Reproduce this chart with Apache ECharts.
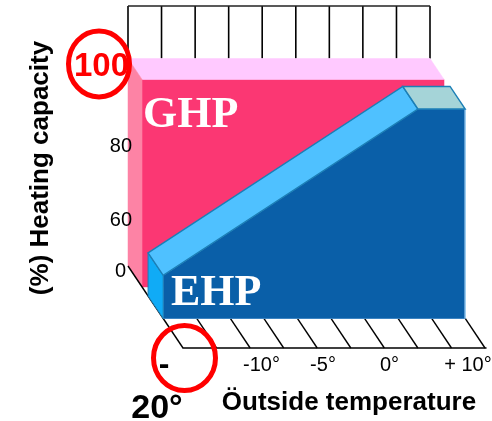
<!DOCTYPE html>
<html><head><meta charset="utf-8">
<style>html,body{margin:0;padding:0;background:#fff}#c{width:492px;height:421px}</style>
<script src="https://cdn.jsdelivr.net/npm/echarts@6/dist/echarts.min.js"></script>
</head><body><div id="c"></div>
<script>
// ---- data ----
const tempTicks = [-20, -10, -5, 0, 10];
const tempLabels = ['-\n20°', '-10°', '-5°', '0°', '+ 10°'];
const capacityTicks = [47, 60, 80, 100];          // axis is truncated: its foot carries the label "0"
const capacityLabels = ['0', '60', '80', '100'];
const hatchTemps = [-20, -16.67, -13.33, -10, -6.67, -3.33, 0, 3.33, 6.67, 10];
const ghpTemps = [-20, 10];
const ghpCapacity = [100, 100];
const ehpTemps = [-20, 5.3, 10];
const ehpCapacity = [58, 100.5, 100.5];
const axisNames = { x: 'Öutside temperature', y: '(%) Heating capacity' };

// ---- oblique projection ----
const DX = 55, DY = 82;
const Z_GHP = 0.255, Z_EHP_BACK = 0.365, Z_EHP_FRONT = 0.64;
const CAP_MIN = 47, CAP_TOP = 113.4;
const sans = '"Liberation Sans", Arial, sans-serif';
const serif = '"Liberation Serif", "Times New Roman", serif';

function proj(api, t, c, z) {
  const p = api.coord([t, c]);
  return [p[0] + z * DX, p[1] + z * DY];
}
function poly(points, fill, stroke, lw) {
  return { type: 'polygon', shape: { points }, style: { fill, stroke: stroke || fill, lineWidth: lw || 0.5, lineJoin: 'miter' } };
}
function seg(a, b, color, w) {
  return { type: 'line', shape: { x1: a[0], y1: a[1], x2: b[0], y2: b[1] }, style: { stroke: color, lineWidth: w } };
}
function once(draw) {
  return function (params, api) {
    if (params.dataIndex > 0) return;
    return { type: 'group', children: draw(api) };
  };
}
const onWall = { type: 'custom', coordinateSystem: 'cartesian2d', xAxisIndex: 1, yAxisIndex: 0, silent: true, clip: false };

const drawWall = once(api => {
  const out = hatchTemps.map(t => seg(proj(api, t, 100, 0), proj(api, t, CAP_TOP, 0), '#000', 1.6));
  out.push(seg(proj(api, -20, CAP_TOP, 0), proj(api, 10, CAP_TOP, 0), '#222', 1.6));
  return out;
});
const drawGhp = once(api => {
  const [t0, t1] = ghpTemps, c = ghpCapacity[0];
  return [
    poly([proj(api, t0, CAP_MIN, Z_GHP), proj(api, t0, c, Z_GHP), proj(api, t1, c, Z_GHP), proj(api, t1, CAP_MIN, Z_GHP)], '#FB3773'),
    poly([proj(api, t0, c, 0), proj(api, t1, c, 0), proj(api, t1, c, Z_GHP), proj(api, t0, c, Z_GHP)], '#FFC9FF'),
    poly([proj(api, t0, CAP_MIN, 0), proj(api, t0, c, 0), proj(api, t0, c, Z_GHP), proj(api, t0, CAP_MIN, Z_GHP)], '#FD83A5')
  ];
});
const drawHatch = once(api => {
  return hatchTemps.map((t, i) => seg(proj(api, t, CAP_MIN, i === 0 ? 0 : Z_EHP_FRONT), proj(api, t, CAP_MIN, 1), '#000', 1.4));
});
const drawEhp = once(api => {
  const edge = '#1B7FB6';
  const front = ehpTemps.map((t, i) => proj(api, t, ehpCapacity[i], Z_EHP_FRONT));
  const back = ehpTemps.map((t, i) => proj(api, t, ehpCapacity[i], Z_EHP_BACK));
  const bl = proj(api, ehpTemps[0], CAP_MIN, Z_EHP_FRONT), br = proj(api, ehpTemps[2], CAP_MIN, Z_EHP_FRONT);
  const blb = proj(api, ehpTemps[0], CAP_MIN, Z_EHP_BACK);
  return [
    poly([bl, front[0], front[1], front[2], br], '#0A5FA8', '#3B83C2', 1),
    seg(front[2], br, '#A5D3F3', 1.4),
    poly([blb, back[0], front[0], bl], '#10ABF6', '#1B7FB6', 1),
    poly([back[0], back[1], front[1], front[0]], '#4FC1FF', edge, 1.4),
    poly([back[1], back[2], front[2], front[1]], '#A5D4D8', edge, 1.4)
  ];
});
const drawMarks = once(api => {
  const a = proj(api, -20, 100, 0), b = proj(api, -20, CAP_MIN, 1);
  const ring = (cx, cy, rx, ry) => ({ type: 'ellipse', shape: { cx, cy, rx, ry }, style: { fill: 'none', stroke: '#FF0000', lineWidth: 5 } });
  return [ring(a[0] - 29, a[1] + 5.5, 30.5, 33), ring(b[0] + 1.5, b[1] + 10, 31, 32.5)];
});

const xShift = { '-20': [0, 52, 0, 0], '-10': [0, 45, 0, 0], '-5': [0, 23, 0, 0], '0': [0, 0, 0, 9], '10': [0, 36, 0, 0] };
const xRich = {};
tempTicks.forEach((t, i) => { xRich['t' + i] = { fontFamily: sans, fontSize: 20, color: '#000', padding: xShift[t] }; });
xRich.dash = { fontFamily: sans, fontSize: 32, fontWeight: 'bold', color: '#000', lineHeight: 20, padding: [0, 38, 0, 0] };
xRich.big = { fontFamily: sans, fontSize: 34, fontWeight: 'bold', color: '#000', lineHeight: 68, padding: [0, 52, 0, 0] };

const yRich = {
  c0: { fontFamily: sans, fontSize: 20, color: '#000', padding: [10, 6, 0, 0] },
  c1: { fontFamily: sans, fontSize: 20, color: '#000', padding: [11, 0, 0, 0] },
  c2: { fontFamily: sans, fontSize: 20, color: '#000', padding: [20, 0, 0, 0] },
  c3: { fontFamily: sans, fontSize: 33, fontWeight: 'bold', color: '#FF0000', padding: [16, 3, 0, 0] }
};

const chart = echarts.init(document.getElementById('c'), null, { renderer: 'canvas' });
chart.setOption({
  animation: false,
  backgroundColor: '#fff',
  grid: [
    { left: 183, width: 303, top: 200, height: 148, outerBoundsMode: 'none' },
    { left: 128, width: 302, top: 6, height: 260, outerBoundsMode: 'none' }
  ],
  xAxis: [
    {
      gridIndex: 0, type: 'value', min: -20, max: 10,
      name: axisNames.x, nameLocation: 'middle', nameGap: 42, nameMoveOverlap: false,
      nameTextStyle: { fontFamily: sans, fontSize: 26, fontWeight: 'bold', color: '#000', padding: [0, 0, 0, 29] },
      axisLine: { show: true, onZero: false, lineStyle: { color: '#000', width: 1.5 } },
      axisTick: { show: false }, splitLine: { show: false },
      axisLabel: {
        show: true, margin: 7, customValues: tempTicks, rich: xRich, showMinLabel: true, showMaxLabel: true, hideOverlap: false,
        formatter: v => {
          const i = tempTicks.indexOf(v);
          if (i === 0) { const p = tempLabels[0].split('\n'); return '{dash|' + p[0] + '}\n{big|' + p[1] + '}'; }
          return '{t' + i + '|' + tempLabels[i] + '}';
        }
      }
    },
    { gridIndex: 1, type: 'value', min: -20, max: 10, show: false }
  ],
  yAxis: [
    {
      gridIndex: 1, type: 'value', min: CAP_MIN, max: CAP_TOP, z: 20,
      name: axisNames.y, nameLocation: 'middle', nameGap: 74, nameMoveOverlap: false,
      nameTextStyle: { fontFamily: sans, fontSize: 26, fontWeight: 'bold', color: '#000', padding: [0, 64, 0, 0] },
      axisLine: { show: false }, axisTick: { show: false }, splitLine: { show: false },
      axisLabel: {
        show: true, margin: -4, customValues: capacityTicks, rich: yRich, showMinLabel: true, showMaxLabel: true, hideOverlap: false,
        formatter: v => { const i = capacityTicks.indexOf(v); return '{c' + i + '|' + capacityLabels[i] + '}'; }
      }
    },
    { gridIndex: 0, type: 'value', min: 0, max: 1, show: false }
  ],
  graphic: [
    { type: 'text', z: 50, left: 143, top: 94, style: { text: 'GHP', fontFamily: serif, fontWeight: 'bold', fontSize: 44, fill: '#fff' } },
    { type: 'text', z: 50, left: 171, top: 272, style: { text: 'EHP', fontFamily: serif, fontWeight: 'bold', fontSize: 44, fill: '#fff' } }
  ],
  series: [
    Object.assign({}, onWall, { name: 'Wall', z: 1, data: [[-20, 100]], renderItem: drawWall }),
    Object.assign({}, onWall, { name: 'GHP', z: 2, data: ghpTemps.map((t, i) => [t, ghpCapacity[i]]), renderItem: drawGhp }),
    Object.assign({}, onWall, { name: 'Floor', z: 3, data: [[-20, CAP_MIN]], renderItem: drawHatch }),
    Object.assign({}, onWall, { name: 'EHP', z: 4, data: ehpTemps.map((t, i) => [t, ehpCapacity[i]]), renderItem: drawEhp }),
    Object.assign({}, onWall, { name: 'Marks', z: 5, data: [[-20, 100]], renderItem: drawMarks })
  ]
});
</script></body></html>
